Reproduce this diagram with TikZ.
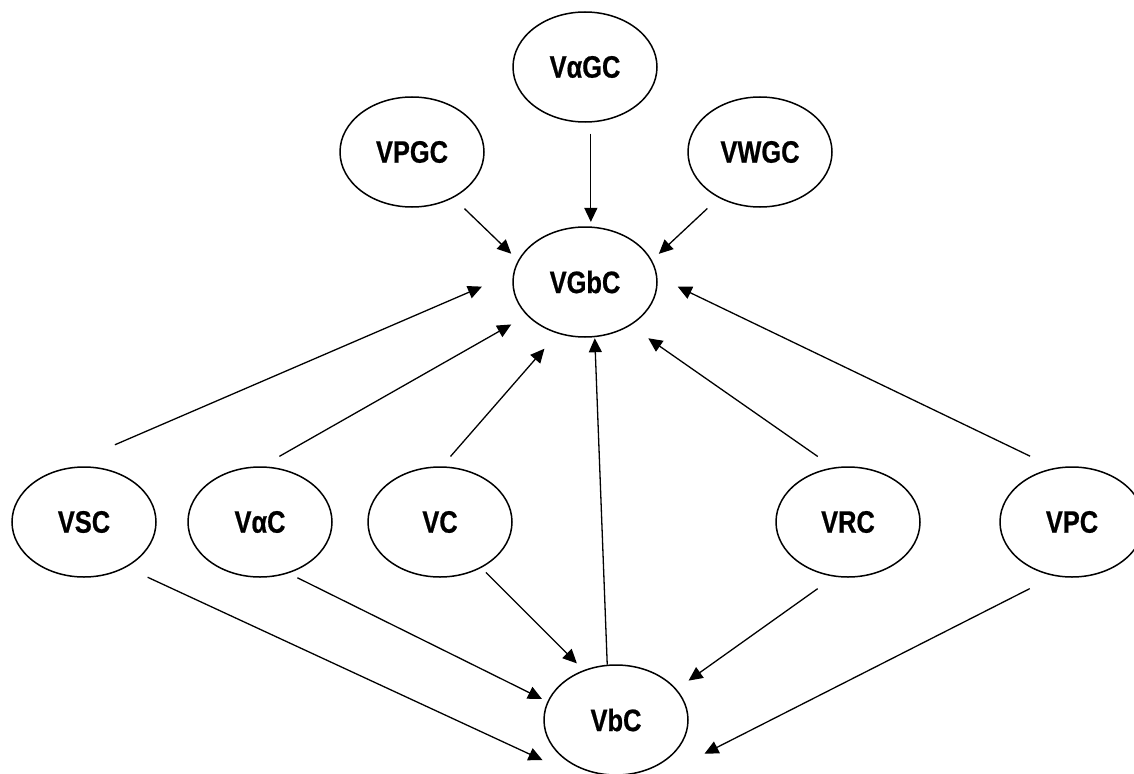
\documentclass[tikz,border=0pt]{standalone}
\usepackage{fontspec}
\newfontfamily\varfont{Liberation Sans}[UprightFont={* Bold}, FakeStretch=0.82, FakeBold=0.6]
\usetikzlibrary{arrows.meta,shapes.geometric,calc}

\tikzset{
  var/.style={draw, ellipse, line width=1.5pt, minimum width=144pt, minimum height=110pt,
    inner sep=0pt, font=\varfont\fontsize{31}{35}\selectfont},
  link/.style={-{Triangle[length=14pt,width=13pt]}, line width=1.3pt},
}

\begin{document}
\begin{tikzpicture}[x=1pt,y=1pt,yscale=-1]
\useasboundingbox (0,0) rectangle (1134,773);

% top row
\node[var] (VaGC) at (585,67) {VαGC};
\node[var] (VPGC) at (412,152) {VPGC};
\node[var] (VWGC) at (760,152) {VWGC};
\node[var] (VGbC) at (585,282) {VGbC};

% lower row
\node[var] (VSC) at (84,522) {VSC};
\node[var] (VaC) at (260,522) {VαC};
\node[var] (VC) at (440,522) {VC};
\node[var] (VRC) at (848,522) {VRC};
\node[var] (VPC) at (1072,522) {VPC};
\node[var] (VbC) at (616,720) {VbC};

% into VGbC
\draw[link, shorten <=15.5pt, shorten >=9.4pt] (VPGC.312) -- (VGbC.162);
\draw[link, shorten <=15.5pt, shorten >=9.4pt] (VWGC.228) -- (VGbC.18);
\draw[link, shorten <=11pt, shorten >=4.5pt] (VaGC.276) -- (VGbC.84);
\draw[link, shorten <=70pt, shorten >=34pt] (VSC.124) -- (VGbC.173);
\draw[link, shorten <=20pt, shorten >=18pt] (VaC.88) -- (VGbC.210);
\draw[link, shorten <=13pt, shorten >=20pt] (VC.88) -- (VGbC.242);
\draw[link, shorten >=1pt] (VbC.99) -- (VGbC.280);
\draw[link, shorten <=19pt, shorten >=22pt] (VRC.105) -- (VGbC.316);
\draw[link, shorten <=27pt, shorten >=22.5pt] (VPC.108) -- (VGbC.4);

% into VbC
\draw[link, shorten <=23.5pt, shorten >=38.7pt] (VSC.313) -- ($(VbC.231)+(0,9)$);
\draw[link, shorten <=10pt, shorten >=6pt] (VaC.299) -- (VbC.165);
\draw[link, shorten <=6.4pt, shorten >=9.5pt] (VC.312) -- (VbC.123);
\draw[link, shorten <=20.5pt, shorten >=14.7pt] (VRC.256) -- (VbC.27);
\draw[link, shorten <=27.7pt, shorten >=48.5pt] (VPC.252) -- ($(VbC.316)+(0,12)$);

\end{tikzpicture}
\end{document}
